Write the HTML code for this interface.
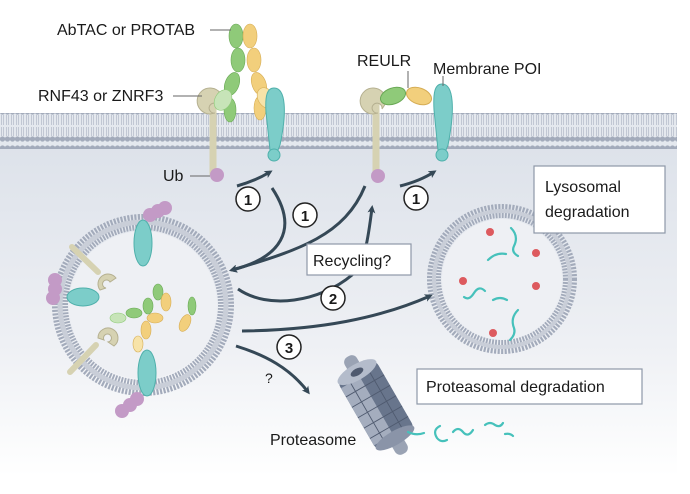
<!DOCTYPE html>
<html><head><style>
html,body{margin:0;padding:0;background:#fff;}
svg{display:block;}
text{font-family:"Liberation Sans",sans-serif;fill:#1a1a1a;}
</style></head><body>
<svg width="690" height="494" viewBox="0 0 690 494" xmlns="http://www.w3.org/2000/svg">
<defs>
<linearGradient id="cyt" x1="0" y1="0" x2="0" y2="1">
<stop offset="0" stop-color="#dde2ea"/><stop offset="0.6" stop-color="#eef0f4"/><stop offset="1" stop-color="#ffffff"/>
</linearGradient>
<pattern id="mem" width="5" height="36" patternUnits="userSpaceOnUse">
<rect width="5" height="36" fill="#e4e8ee"/>
<circle cx="2.5" cy="4" r="2.6" fill="#a3abbb"/>
<circle cx="2.5" cy="31" r="2.6" fill="#a3abbb"/>
<path d="M1.5,7 L1.5,17 M3.5,7 L3.5,17 M1.5,19 L1.5,28 M3.5,19 L3.5,28" stroke="#b3bac8" stroke-width="0.7"/>
</pattern>
<marker id="ah" markerWidth="8" markerHeight="8" refX="5" refY="4" orient="auto" markerUnits="userSpaceOnUse">
<path d="M0,0 L8,4 L0,8 L2,4 Z" fill="#354856"/>
</marker>
</defs>
<rect x="0" y="146" width="677" height="330" fill="url(#cyt)"/>
<rect x="0" y="113" width="677" height="36" fill="url(#mem)"/>

<!-- left vesicle -->
<circle cx="143" cy="305" r="83" fill="none" stroke="#a3abbb" stroke-width="16" stroke-dasharray="2 1.3"/>
<circle cx="143" cy="305" r="83" fill="none" stroke="#c9ced8" stroke-width="5"/>
<circle cx="143" cy="305" r="74" fill="#eef0f4"/>
<!-- vesicle proteins -->
<ellipse cx="143" cy="243" rx="9" ry="23" fill="#7ccdc9" stroke="#4fb0ab"/>
<circle cx="150" cy="215" r="7" fill="#c39ac6"/><circle cx="158" cy="211" r="7" fill="#c39ac6"/><circle cx="165" cy="208" r="7" fill="#c39ac6"/>
<ellipse cx="83" cy="297" rx="16" ry="9" fill="#7ccdc9" stroke="#4fb0ab"/>
<circle cx="55" cy="280" r="7" fill="#c39ac6"/><circle cx="55" cy="289" r="7" fill="#c39ac6"/><circle cx="53" cy="298" r="7" fill="#c39ac6"/>
<ellipse cx="147" cy="373" rx="9" ry="23" fill="#7ccdc9" stroke="#4fb0ab"/>
<circle cx="122" cy="411" r="7" fill="#c39ac6"/><circle cx="130" cy="405" r="7" fill="#c39ac6"/><circle cx="137" cy="399" r="7" fill="#c39ac6"/>
<path d="M72,247 L98,272" stroke="#d6d2b2" stroke-width="6" stroke-linecap="round"/>
<path d="M100,290 a10,10 0 1,1 16,-12 l-6,4 a4,4 0 1,0 -4,6z" fill="#d6d2b2" stroke="#b5b090"/>
<path d="M70,372 L96,345" stroke="#d6d2b2" stroke-width="6" stroke-linecap="round"/>
<path d="M98,338 a10,10 0 1,1 16,8 l-6,-4 a4,4 0 1,0 -4,-2z" fill="#d6d2b2" stroke="#b5b090"/>
<g stroke-width="0.6">
<ellipse cx="158" cy="292" rx="5" ry="8" fill="#8fca79" stroke="#6aa956"/>
<ellipse cx="148" cy="306" rx="5" ry="8" fill="#8fca79" stroke="#6aa956"/>
<ellipse cx="134" cy="313" rx="8" ry="5" fill="#8fca79" stroke="#6aa956"/>
<ellipse cx="118" cy="318" rx="8" ry="5" fill="#c7e4b8" stroke="#8fca79"/>
<ellipse cx="166" cy="302" rx="5" ry="9" fill="#f2cf7c" stroke="#d6ad55"/>
<ellipse cx="155" cy="318" rx="8" ry="5" fill="#f2cf7c" stroke="#d6ad55"/>
<ellipse cx="146" cy="330" rx="5" ry="9" fill="#f2cf7c" stroke="#d6ad55"/>
<ellipse cx="138" cy="344" rx="5" ry="8" fill="#f7e3a8" stroke="#d6ad55"/>
<ellipse cx="192" cy="306" rx="4" ry="9" fill="#8fca79" stroke="#6aa956"/>
<ellipse cx="185" cy="323" rx="5" ry="9" fill="#f2cf7c" stroke="#d6ad55" transform="rotate(25 185 323)"/>
</g>

<!-- lysosome -->
<circle cx="502" cy="279" r="68" fill="none" stroke="#a3abbb" stroke-width="14" stroke-dasharray="2 1.3"/>
<circle cx="502" cy="279" r="68" fill="none" stroke="#c9ced8" stroke-width="4"/>
<circle cx="502" cy="279" r="60" fill="#eef0f4"/>
<g fill="#dd5a5e"><circle cx="490" cy="232" r="4"/><circle cx="536" cy="253" r="4"/><circle cx="463" cy="281" r="4"/><circle cx="536" cy="286" r="4"/><circle cx="493" cy="333" r="4"/></g>
<g fill="none" stroke="#46c1bb" stroke-width="2.2" stroke-linecap="round">
<path d="M511,228 q8,8 3,18 q-3,6 4,10"/><path d="M488,260 q8,-8 18,-6"/><path d="M464,297 q5,4 10,-4 q5,-8 11,-2"/><path d="M493,300 q7,-4 14,0"/><path d="M518,310 q-8,8 -4,18 q2,6 -4,12"/>
</g>

<!-- membrane proteins top left -->
<path d="M213,102 L213,175" stroke="#d6d2b2" stroke-width="7"/>
<path d="M210,114 a13,13 0 1,1 13,-11 l-4,6 a5,5 0 1,0 -4,4z" fill="#d6d2b2" stroke="#b5b090"/>
<g stroke-width="0.6">
<ellipse cx="236" cy="36" rx="7" ry="12" fill="#8fca79" stroke="#6aa956"/>
<ellipse cx="238" cy="60" rx="7" ry="12" fill="#8fca79" stroke="#6aa956"/>
<ellipse cx="232" cy="84" rx="7" ry="12" fill="#8fca79" stroke="#6aa956" transform="rotate(20 232 84)"/>
<ellipse cx="230" cy="110" rx="6" ry="12" fill="#8fca79" stroke="#6aa956"/>
<ellipse cx="250" cy="36" rx="7" ry="12" fill="#f2cf7c" stroke="#d6ad55"/>
<ellipse cx="254" cy="60" rx="7" ry="12" fill="#f2cf7c" stroke="#d6ad55"/>
<ellipse cx="259" cy="84" rx="7" ry="12" fill="#f2cf7c" stroke="#d6ad55" transform="rotate(-20 259 84)"/>
<ellipse cx="260" cy="108" rx="6" ry="12" fill="#f2cf7c" stroke="#d6ad55"/>
<ellipse cx="223" cy="100" rx="8" ry="11" fill="#c7e4b8" stroke="#8fca79" transform="rotate(30 223 100)"/>
<ellipse cx="266" cy="98" rx="8" ry="11" fill="#f7e3a8" stroke="#d6ad55" transform="rotate(-30 266 98)"/>
</g>
<path d="M274,88 C286,88 287,112 280,145 L278,150 L270,150 L266,112 C265,96 267,88 274,88Z" fill="#7ccdc9" stroke="#4fb0ab"/>
<circle cx="274" cy="155" r="6" fill="#7ccdc9" stroke="#4fb0ab"/>
<circle cx="217" cy="175" r="7" fill="#c39ac6"/>
<path d="M190,176 L210,176" stroke="#666" stroke-width="1"/>

<!-- membrane proteins top right -->
<path d="M376,102 L376,175" stroke="#d6d2b2" stroke-width="7"/>
<path d="M373,114 a13,13 0 1,1 13,-11 l-4,6 a5,5 0 1,0 -4,4z" fill="#d6d2b2" stroke="#b5b090"/>
<ellipse cx="393" cy="96" rx="13" ry="8" fill="#8fca79" stroke="#6aa956" transform="rotate(-20 393 96)"/>
<ellipse cx="419" cy="96" rx="13" ry="8" fill="#f2cf7c" stroke="#d6ad55" transform="rotate(20 419 96)"/>
<path d="M442,84 C454,84 455,110 448,145 L446,150 L438,150 L434,110 C433,92 435,84 442,84Z" fill="#7ccdc9" stroke="#4fb0ab"/>
<circle cx="442" cy="155" r="6" fill="#7ccdc9" stroke="#4fb0ab"/>
<circle cx="378" cy="176" r="7" fill="#c39ac6"/>

<!-- label leaders -->
<g stroke="#666" stroke-width="1" fill="none">
<path d="M210,30 L231,30"/><path d="M173,96 L202,96"/><path d="M408,71 L408,88"/><path d="M443,76 L443,86"/>
</g>
<text x="57" y="35" font-size="16">AbTAC or PROTAB</text>
<text x="38" y="101" font-size="16">RNF43 or ZNRF3</text>
<text x="357" y="66" font-size="16">REULR</text>
<text x="433" y="74" font-size="16">Membrane POI</text>
<text x="163" y="181" font-size="16">Ub</text>

<!-- arrows -->
<g fill="none" stroke="#354856" stroke-width="3" marker-end="url(#ah)">
<path d="M237,186 Q255,181 270,172"/>
<path d="M400,186 Q420,181 434,172"/>
<path d="M272,188 C300,230 280,258 232,270"/>
<path d="M365,186 C345,235 300,250 232,270"/>
<path d="M238,289 C268,310 320,302 352,275 C365,262 368,240 372,208"/>
<path d="M242,331 C320,330 380,318 430,296"/>
<path d="M236,346 C265,355 290,368 308,392"/>
</g>

<!-- numbered circles -->
<g font-size="15" font-weight="bold" text-anchor="middle" stroke-width="1.5">
<circle cx="248" cy="199" r="12" fill="#fff" stroke="#222"/><text x="248" y="205">1</text>
<circle cx="305" cy="215" r="12" fill="#fff" stroke="#222"/><text x="305" y="221">1</text>
<circle cx="416" cy="198" r="12" fill="#fff" stroke="#222"/><text x="416" y="204">1</text>
<circle cx="333" cy="298" r="12" fill="#fff" stroke="#222"/><text x="333" y="304">2</text>
<circle cx="289" cy="347" r="12" fill="#fff" stroke="#222"/><text x="289" y="353">3</text>
</g>
<text x="265" y="383" font-size="14">?</text>

<!-- boxes -->
<rect x="307" y="244" width="104" height="31" fill="#fff" stroke="#8e98a8" stroke-width="1.2"/>
<text x="313" y="266" font-size="16">Recycling?</text>
<rect x="534" y="166" width="131" height="67" fill="#fff" stroke="#8e98a8" stroke-width="1.2"/>
<text x="545" y="192" font-size="16">Lysosomal</text>
<text x="545" y="217" font-size="16">degradation</text>
<rect x="417" y="369" width="225" height="35" fill="#fff" stroke="#8e98a8" stroke-width="1.2"/>
<text x="426" y="392" font-size="16">Proteasomal degradation</text>

<!-- proteasome -->
<g transform="translate(376,405) rotate(-30)">
<rect x="-7" y="-56" width="14" height="18" rx="6" fill="#9aa3b4"/>
<rect x="-7" y="38" width="14" height="18" rx="6" fill="#9aa3b4"/>
<rect x="-22" y="-42" width="44" height="84" rx="9" fill="#68758c"/>
<rect x="-22" y="-32" width="22" height="66" fill="#a4adbe"/>
<g fill="none" stroke="#4f5a6f" stroke-width="0.9"><path d="M-22,-22 H22 M-22,-10 H22 M-22,2 H22 M-22,14 H22 M-22,26 H22 M-11,-32 V34 M11,-32 V34"/></g>
<ellipse cx="0" cy="-38" rx="22" ry="8" fill="#b4bccb"/>
<ellipse cx="0" cy="-38" rx="7" ry="3.5" fill="#4f5a6f"/>
<ellipse cx="0" cy="38" rx="22" ry="7" fill="#8a94a8"/>
</g>
<text x="270" y="445" font-size="16">Proteasome</text>
<g fill="none" stroke="#46c1bb" stroke-width="2.2" stroke-linecap="round">
<path d="M408,432 q8,4 16,1"/><path d="M440,426 q-8,4 -3,12 q4,5 10,2"/><path d="M453,432 q5,-6 10,0 q5,6 10,-2"/><path d="M485,425 q5,-4 10,0 q5,3 8,-2"/><path d="M505,434 q5,-1 8,2"/>
</g>
</svg>
</body></html>
